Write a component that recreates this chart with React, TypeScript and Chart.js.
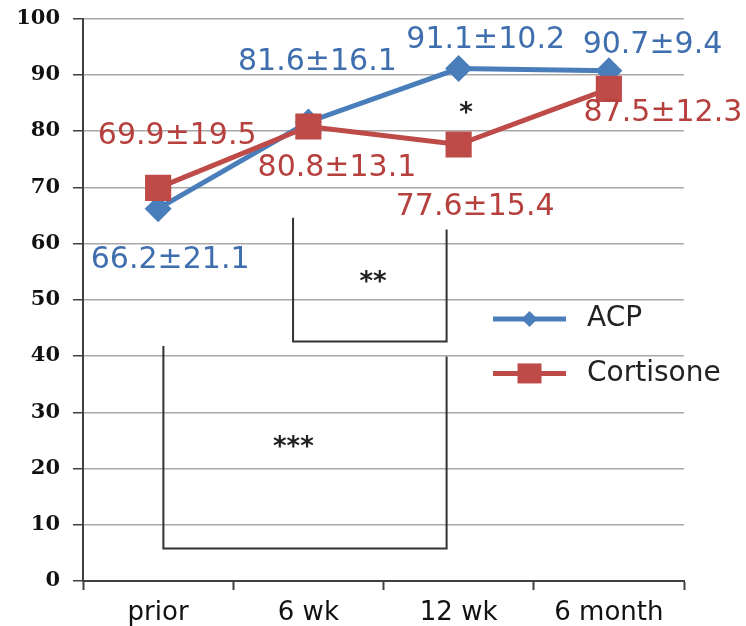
import React, { useEffect, useRef } from "react";
import { Chart, registerables } from "chart.js";
Chart.register(...registerables);

// ---- data ----
const categories = ["prior", "6 wk", "12 wk", "6 month"];
const seriesNames = ["ACP", "Cortisone"];
const acpMean = [66.2, 81.6, 91.1, 90.7];
const acpSD = [21.1, 16.1, 10.2, 9.4];
const cortisoneMean = [69.9, 80.8, 77.6, 87.5];
const cortisoneSD = [19.5, 13.1, 15.4, 12.3];
const yMin = 0;
const yMax = 100;
const yStep = 10;
const significanceMarks = ["*", "**", "***"];

// ---- annotation placement (data units: category index, value) ----
const acpLabelAnchors = [[0.08, 57.1], [1.06, 92.2], [2.18, 96.1], [3.29, 95.2]];
const cortLabelAnchors = [[0.127, 79.1], [1.19, 73.4], [2.11, 66.5], [3.36, 83.2]];
const markAnchors = [[2.05, 84.4], [1.43, 54.3], [0.9, 25.0]];
const brackets = [
  { left: 0.898, right: 1.92, leftTop: 64.6, rightTop: 62.5, bottom: 42.6 },
  { left: 0.035, right: 1.92, leftTop: 41.8, rightTop: 39.9, bottom: 5.8 },
];

// ---- styles ----
const BLUE = "#4a7ebb";
const RED = "#be4b48";
const BLUE_TXT = "#3f6eae";
const RED_TXT = "#b5403d";
const AXIS = "#404040";
const GRID = "#a8a8a8";
const SANS = "'DejaVu Sans', sans-serif";
const SERIF = "'DejaVu Serif', serif";

const fmt = (m: number, s: number) => `${m.toFixed(1)}±${s.toFixed(1)}`;

const annotationPlugin = {
  id: "annotations",
  afterDatasetsDraw(chart: any) {
    const ctx = chart.ctx;
    const xs = chart.scales.x;
    const ys = chart.scales.y;
    const px = (v: number) => xs.getPixelForValue(v);
    const py = (v: number) => ys.getPixelForValue(v);
    ctx.save();
    // brackets
    ctx.strokeStyle = "#333";
    ctx.lineWidth = 2;
    brackets.forEach((b) => {
      ctx.beginPath();
      ctx.moveTo(px(b.left), py(b.leftTop));
      ctx.lineTo(px(b.left), py(b.bottom));
      ctx.lineTo(px(b.right), py(b.bottom));
      ctx.lineTo(px(b.right), py(b.rightTop));
      ctx.stroke();
    });
    // value labels
    ctx.font = `30px ${SANS}`;
    ctx.textAlign = "center";
    ctx.textBaseline = "middle";
    ctx.fillStyle = BLUE_TXT;
    acpMean.forEach((m, i) => {
      const a = acpLabelAnchors[i];
      ctx.fillText(fmt(m, acpSD[i]), px(a[0]), py(a[1]));
    });
    ctx.fillStyle = RED_TXT;
    cortisoneMean.forEach((m, i) => {
      const a = cortLabelAnchors[i];
      ctx.fillText(fmt(m, cortisoneSD[i]), px(a[0]), py(a[1]));
    });
    // significance marks
    const fs = 26;
    ctx.font = `bold ${fs}px ${SANS}`;
    ctx.textBaseline = "alphabetic";
    ctx.fillStyle = "#222";
    significanceMarks.forEach((s, i) => {
      const a = markAnchors[i];
      ctx.fillText(s, px(a[0]), py(a[1]) + fs * 0.55);
    });
    // legend
    const area = chart.chartArea;
    const lx0 = area.right - 191;
    const lx1 = area.right - 118;
    const lmid = (lx0 + lx1) / 2;
    const tx = area.right - 97;
    const rows = [py(46.6), py(36.9)];
    ctx.lineWidth = 5;
    // ACP
    ctx.strokeStyle = BLUE;
    ctx.beginPath();
    ctx.moveTo(lx0, rows[0]);
    ctx.lineTo(lx1, rows[0]);
    ctx.stroke();
    ctx.fillStyle = BLUE;
    ctx.beginPath();
    ctx.moveTo(lmid - 8, rows[0]);
    ctx.lineTo(lmid, rows[0] - 8);
    ctx.lineTo(lmid + 8, rows[0]);
    ctx.lineTo(lmid, rows[0] + 8);
    ctx.closePath();
    ctx.fill();
    // Cortisone
    ctx.strokeStyle = RED;
    ctx.beginPath();
    ctx.moveTo(lx0, rows[1]);
    ctx.lineTo(lx1, rows[1]);
    ctx.stroke();
    ctx.fillStyle = RED;
    ctx.fillRect(lmid - 12, rows[1] - 10, 24, 20);
    ctx.font = `28px ${SANS}`;
    ctx.textAlign = "left";
    ctx.textBaseline = "middle";
    ctx.fillStyle = "#222";
    ctx.fillText(seriesNames[0], tx, rows[0]);
    ctx.fillText(seriesNames[1], tx, rows[1]);
    ctx.restore();
  },
};

export default function App() {
  const ref = useRef<HTMLCanvasElement | null>(null);
  useEffect(() => {
    if (!ref.current) return;
    const chart = new Chart(ref.current, {
      type: "line",
      data: {
        labels: categories,
        datasets: [
          {
            label: seriesNames[0],
            data: acpMean,
            borderColor: BLUE,
            backgroundColor: BLUE,
            borderWidth: 5,
            pointStyle: "rectRot",
            pointRadius: 13.5,
            pointBorderWidth: 0,
            pointBackgroundColor: BLUE,
            tension: 0,
            order: 1,
          },
          {
            label: seriesNames[1],
            data: cortisoneMean,
            borderColor: RED,
            backgroundColor: RED,
            borderWidth: 5,
            pointStyle: "rect",
            pointRadius: 18.5,
            pointBorderWidth: 0,
            pointBackgroundColor: RED,
            tension: 0,
            order: 0,
          },
        ],
      },
      options: {
        animation: false,
        responsive: false,
        layout: { padding: { top: 17, right: 62, left: 0, bottom: 0 } },
        plugins: {
          legend: { display: false },
          tooltip: { enabled: false },
        },
        scales: {
          x: {
            type: "category",
            offset: true,
            grid: {
              offset: true,
              drawOnChartArea: false,
              drawTicks: true,
              tickLength: 9,
              tickColor: AXIS,
              tickWidth: 2,
            },
            border: { color: AXIS, width: 2 },
            ticks: {
              color: "#111",
              font: { family: SANS, size: 26 },
              padding: 8,
              maxRotation: 0,
            },
            afterFit: (s: any) => {
              s.height = 45;
              s.paddingLeft = 0;
              s.paddingRight = 0;
            },
          },
          y: {
            min: yMin,
            max: yMax,
            ticks: {
              stepSize: yStep,
              color: "#111",
              font: { family: SERIF, size: 21, weight: "bold" },
              padding: 13,
            },
            grid: {
              color: GRID,
              lineWidth: 1.5,
              drawTicks: true,
              tickLength: 10,
              tickColor: AXIS,
            },
            border: { color: AXIS, width: 2 },
            afterFit: (s: any) => {
              s.width = 83;
              s.paddingTop = 0;
              s.paddingBottom = 0;
            },
          },
        },
      },
      plugins: [annotationPlugin],
    });
    return () => chart.destroy();
  }, []);
  return (
    <div style={{ position: "absolute", left: 0, top: 0, width: 746, height: 626, background: "#fff" }}>
      <canvas ref={ref} width={746} height={626} style={{ display: "block" }} />
    </div>
  );
}
